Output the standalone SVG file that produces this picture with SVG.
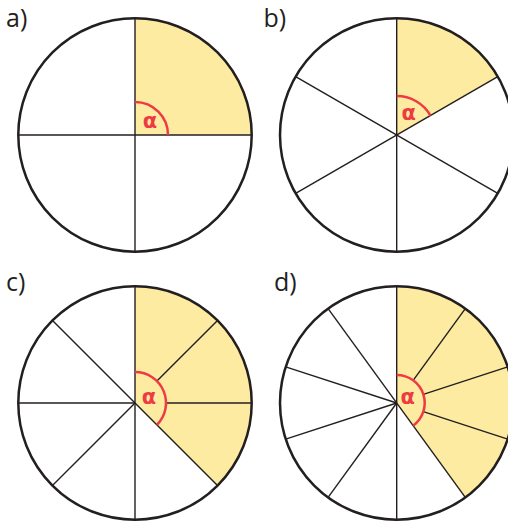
<svg xmlns="http://www.w3.org/2000/svg" width="508" height="523" viewBox="0 0 508 523">
<style>
.circ{fill:none;stroke:#231f20;stroke-width:2.5}
.div{stroke:#231f20;stroke-width:1.4;fill:none}
.sh{fill:#fdeba1;stroke:none}
.arc{fill:none;stroke:#ee3a43;stroke-width:2.5}
.lbl{font-family:"Open Sans","DejaVu Sans",sans-serif;font-size:25px;fill:#231f20}
.al{font-family:"DejaVu Sans","Liberation Sans",sans-serif;font-size:21px;font-weight:bold;fill:#ee3a43;text-anchor:middle}
</style>
<rect width="508" height="523" fill="#fff"/>
<g id="a">
<text class="lbl" x="6" y="27">a)</text>
<path class="sh" d="M135 135 L135 18.3 A116.7 116.7 0 0 1 251.7 135 Z"/>
<g transform="translate(135 135)">
<line class="div" x1="0" y1="-116.7" x2="0" y2="116.7"/>
<line class="div" x1="-116.7" y1="0" x2="116.7" y2="0"/>
<path class="arc" d="M0 -33 A33 33 0 0 1 33 0"/>
<text class="al" x="15" y="-7">α</text>
</g>
<circle class="circ" cx="135" cy="135" r="116.7"/>
</g>
<g id="b">
<text class="lbl" x="263.5" y="27">b)</text>
<path class="sh" d="M396.7 135 L396.7 18.3 A116.7 116.7 0 0 1 497.77 76.65 Z"/>
<g transform="translate(396.7 135)">
<line class="div" x1="0" y1="-116.7" x2="0" y2="116.7"/>
<line class="div" x1="101.07" y1="-58.35" x2="-101.07" y2="58.35"/>
<line class="div" x1="101.07" y1="58.35" x2="-101.07" y2="-58.35"/>
<path class="arc" d="M0 -39 A39 39 0 0 1 33.77 -19.5"/>
<text class="al" x="12" y="-15">α</text>
</g>
<circle class="circ" cx="396.7" cy="135" r="116.7"/>
</g>
<g id="c">
<text class="lbl" x="6" y="291">c)</text>
<path class="sh" d="M135 403 L135 286.3 A116.7 116.7 0 0 1 217.52 485.52 Z"/>
<g transform="translate(135 403)">
<line class="div" x1="0" y1="-116.7" x2="0" y2="116.7"/>
<line class="div" x1="-116.7" y1="0" x2="0" y2="0"/>
<line class="div" x1="31" y1="0" x2="116.7" y2="0"/>
<line class="div" x1="82.52" y1="-82.52" x2="21.92" y2="-21.92"/>
<line class="div" x1="0" y1="0" x2="-82.52" y2="82.52"/>
<line class="div" x1="82.52" y1="82.52" x2="-82.52" y2="-82.52"/>
<path class="arc" d="M0 -31 A31 31 0 0 1 21.92 21.92"/>
<text class="al" x="14" y="1">α</text>
</g>
<circle class="circ" cx="135" cy="403" r="116.7"/>
</g>
<g id="d">
<text class="lbl" x="274" y="291">d)</text>
<path class="sh" d="M396.7 403 L396.7 286.3 A116.7 116.7 0 0 1 465.3 497.41 Z"/>
<g transform="translate(396.7 403)">
<line class="div" x1="0" y1="-116.7" x2="0" y2="116.7"/>
<line class="div" x1="68.6" y1="-94.41" x2="16.46" y2="-22.65"/>
<line class="div" x1="0" y1="0" x2="-68.6" y2="94.41"/>
<line class="div" x1="110.99" y1="-36.06" x2="26.63" y2="-8.65"/>
<line class="div" x1="0" y1="0" x2="-110.99" y2="36.06"/>
<line class="div" x1="110.99" y1="36.06" x2="26.63" y2="8.65"/>
<line class="div" x1="0" y1="0" x2="-110.99" y2="-36.06"/>
<line class="div" x1="68.6" y1="94.41" x2="-68.6" y2="-94.41"/>
<path class="arc" d="M0 -28 A28 28 0 0 1 16.46 22.65"/>
<text class="al" x="11" y="1">α</text>
</g>
<circle class="circ" cx="396.7" cy="403" r="116.7"/>
</g>
</svg>
